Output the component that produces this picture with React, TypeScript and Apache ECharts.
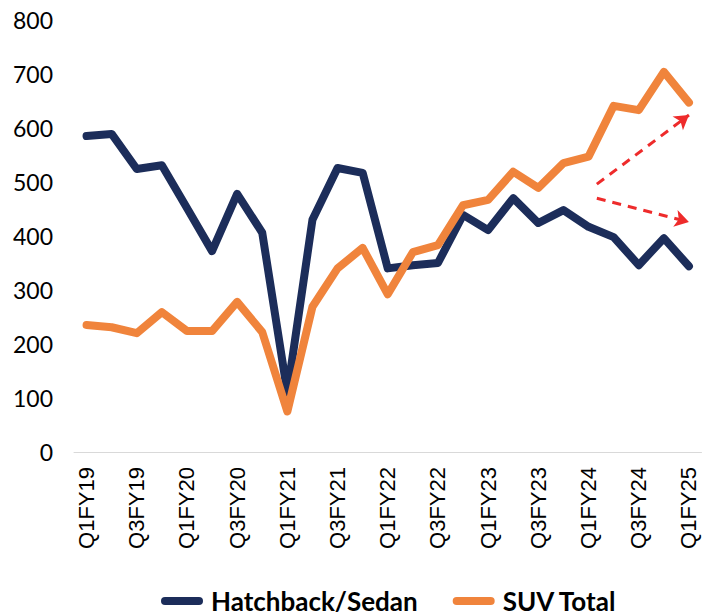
import React, { useEffect, useRef } from "react";
import * as echarts from "echarts";

const categories = [
  "Q1FY19", "Q2FY19", "Q3FY19", "Q4FY19",
  "Q1FY20", "Q2FY20", "Q3FY20", "Q4FY20",
  "Q1FY21", "Q2FY21", "Q3FY21", "Q4FY21",
  "Q1FY22", "Q2FY22", "Q3FY22", "Q4FY22",
  "Q1FY23", "Q2FY23", "Q3FY23", "Q4FY23",
  "Q1FY24", "Q2FY24", "Q3FY24", "Q4FY24",
  "Q1FY25",
];

const hatchbackSedan = [
  585, 589, 524, 531, 452, 372, 478, 406, 110, 430, 526, 517,
  340, 346, 350, 439, 411, 470, 424, 448, 417, 398, 346, 396, 344,
];

const suvTotal = [
  235, 231, 220, 259, 224, 224, 278, 222, 75, 269, 340, 378,
  292, 370, 383, 457, 467, 519, 489, 535, 547, 641, 633, 704, 647,
];

// arrow endpoints: [category position, value]
const arrowUp = [[20.33, 496], [24, 624]];
const arrowDown = [[20.33, 470], [24, 426]];

const yTicks = { min: 0, max: 800, interval: 100 };

export default function App() {
  const ref = useRef<HTMLDivElement>(null);
  useEffect(() => {
    if (!ref.current) return;
    document.body.style.margin = "0";
    const chart = echarts.init(ref.current, null, { renderer: "svg" });
    const navy = "#1c2d5a";
    const orange = "#f0843c";
    const red = "#ee2b2b";
    chart.setOption({
      animation: false,
      grid: { left: 74, right: 1.5, top: 20, bottom: 164, containLabel: false },
      legend: {
        left: 161,
        top: 587,
        itemWidth: 42,
        itemHeight: 8,
        itemGap: 35,
        padding: 0,
        icon: "path://M4,0 L38,0 A4,4 0 0 1 38,8 L4,8 A4,4 0 0 1 4,0 Z",
        textStyle: {
          fontFamily: "Lato",
          fontWeight: "bold",
          fontSize: 26,
          lineHeight: 28,
          color: "#000",
          padding: [0, 0, 0, 3],
        },
        data: ["Hatchback/Sedan", "SUV Total"],
      },
      xAxis: [
        {
          type: "category",
          data: categories,
          boundaryGap: true,
          axisLine: { show: true, lineStyle: { color: "#d9d9d9", width: 1 } },
          axisTick: { show: false },
          axisLabel: {
            interval: 1,
            rotate: 90,
            margin: 15,
            fontFamily: "Liberation Sans",
            fontSize: 22,
            color: "#000",
          },
          splitLine: { show: false },
        },
        {
          type: "value",
          min: -0.5,
          max: 24.5,
          show: false,
          position: "bottom",
        },
      ],
      yAxis: {
        type: "value",
        min: yTicks.min,
        max: yTicks.max,
        interval: yTicks.interval,
        axisLine: { show: false },
        axisTick: { show: false },
        splitLine: { show: false },
        axisLabel: {
          margin: 21,
          fontFamily: "Lato",
          fontSize: 23,
          color: "#000",
        },
      },
      series: [
        {
          name: "Hatchback/Sedan",
          type: "line",
          data: hatchbackSedan,
          showSymbol: false,
          symbol: "none",
          color: navy,
          lineStyle: { color: navy, width: 8, cap: "round", join: "round" },
          z: 2,
        },
        {
          name: "SUV Total",
          type: "line",
          data: suvTotal,
          showSymbol: false,
          symbol: "none",
          color: orange,
          lineStyle: { color: orange, width: 8, cap: "round", join: "round" },
          z: 3,
        },
        {
          name: "arrows",
          type: "line",
          xAxisIndex: 1,
          data: [],
          silent: true,
          markLine: {
            silent: true,
            symbol: ["none", "arrow"],
            symbolSize: [13, 14],
            label: { show: false },
            lineStyle: { color: red, width: 3, type: [9, 7] },
            emphasis: { disabled: true },
            data: [
              [{ coord: arrowUp[0] }, { coord: arrowUp[1] }],
              [{ coord: arrowDown[0] }, { coord: arrowDown[1] }],
            ],
          },
          z: 4,
        },
      ],
    });
    return () => chart.dispose();
  }, []);
  return <div ref={ref} style={{ width: 703, height: 616 }} />;
}
